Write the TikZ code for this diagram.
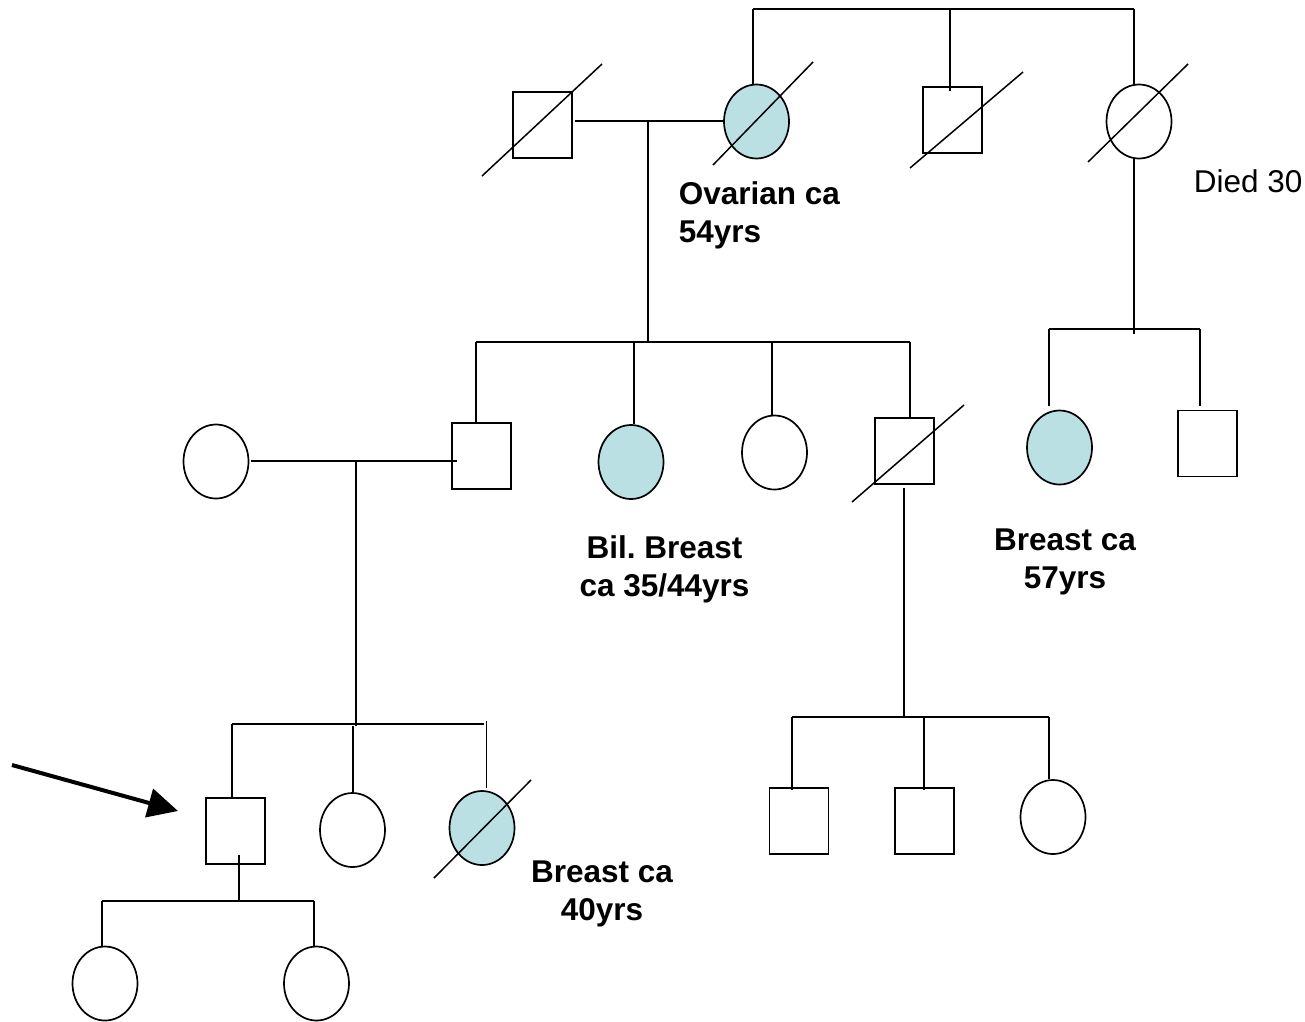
\documentclass[tikz,border=0pt]{standalone}
\usepackage{fontspec}
\setmainfont{Liberation Sans}
\usetikzlibrary{shapes.geometric,arrows.meta}
\definecolor{affected}{RGB}{187,224,228}
\frenchspacing
\begin{document}
\begin{tikzpicture}[x=1pt,y=-1pt,
  line width=1.7pt,
  male/.style={draw,rectangle,inner sep=0pt,minimum width=59pt,minimum height=66pt},
  female/.style={draw,ellipse,inner sep=0pt,minimum width=65pt,minimum height=74pt},
  affected/.style={fill=affected},
  deceased/.style={line width=1.5pt},
  label/.style={font=\fontsize{31.5}{38}\selectfont\bfseries,inner sep=0pt,align=center},
  note/.style={font=\fontsize{31.5}{38}\selectfont,inner sep=0pt}]
\useasboundingbox (0,0) rectangle (1305,1021);

% generation I
\node[male] (gf) at (542.5,125) {};
\node[female,affected] (gm) at (756.5,121.5) {};
\node[male] (gu) at (952.5,120) {};
\node[female] (ga) at (1139,121.5) {};

% generation II
\node[female] (mo) at (216,461.5) {};
\node[male] (fa) at (481.5,456) {};
\node[female,affected] (au1) at (631,462) {};
\node[female] (au2) at (774.5,452.5) {};
\node[male] (un) at (904.5,451) {};
\node[female,affected] (co1) at (1059.5,447.5) {};
\node[male] (co2) at (1207.5,443.5) {};

% generation III
\node[male] (pb) at (235.5,831) {};
\node[female] (si1) at (352.5,830) {};
\node[female,affected] (si2) at (482,828) {};
\node[male] (cs1) at (799,821) {};
\node[male] (cs2) at (924.5,821) {};
\node[female] (cs3) at (1053,817) {};

% generation IV
\node[female] (da1) at (105,983.5) {};
\node[female] (da2) at (316.5,983.5) {};

% sibship of the grandmother
\coordinate (t1) at (753,9);
\coordinate (t2) at (950,9);
\coordinate (t3) at (1134,9);
\draw (t1) -- (t3);
\draw (t1) -- (t1 |- gm.north);
\draw (t2) -- (t2 |- 0,91);
\draw (t3) -- (t3 |- ga.north);

% grandparents' marriage and their children
\coordinate (m1) at (648,121);
\coordinate (s2) at (648,342);
\draw (gf.east |- m1) ++(2,0) -- (gm.west |- m1);
\draw (m1) -- (s2);
\coordinate (c1) at (476,342);
\coordinate (c2) at (634,342);
\coordinate (c3) at (772,342);
\coordinate (c4) at (910,342);
\draw (c1) -- (c4);
\draw (c1) -- (c1 |- fa.north);
\draw (c2) -- (c2 |- au1.north);
\draw (c3) -- (c3 |- au2.north);
\draw (c4) -- (c4 |- un.north);

% great-aunt's children
\coordinate (g1) at (1134,329);
\draw (ga.south -| g1) -- (1134,334);
\coordinate (k1) at (1049,329);
\coordinate (k2) at (1200,329);
\draw (k1) -- (k2);
\draw (k1) -- (1049,406);
\draw (k2) -- (1200,406);

% parents' marriage and their children
\coordinate (m2) at (356,461);
\draw (mo.east |- m2) ++(2,0) -- (457,461);
\draw (m2) -- (356,726);
\coordinate (p1) at (232,724);
\coordinate (p2) at (353,724);
\coordinate (p3) at (484,724);
\draw (p1) -- (p3);
\draw (p1) -- (p1 |- pb.north);
\draw (p2) ++(0,2) -- (p2 |- si1.north);
\draw (486.5,721) -- (486.5,788);

% uncle's children
\coordinate (u1) at (904,717);
\draw (un.south -| u1) ++(0,3) -- (u1);
\coordinate (q1) at (792,717);
\coordinate (q2) at (924,717);
\coordinate (q3) at (1049,717);
\draw (q1) -- (q3);
\draw (q1) -- (792,790);
\draw (q2) -- (924,790);
\draw (q3) -- (q3 |- cs3.north);

% proband's children
\coordinate (r0) at (239,901);
\draw (239,855) -- (r0);
\coordinate (r1) at (102,901);
\coordinate (r2) at (314,901);
\draw (r1) -- (r2);
\draw (r1) -- (r1 |- da1.north);
\draw (r2) -- (r2 |- da2.north);

% deceased marks
\draw[deceased] (482,176) -- (602,64);
\draw[deceased] (713,165) -- (813,62);
\draw[deceased] (910,168) -- (1023,72);
\draw[deceased] (1088,162) -- (1188,64);
\draw[deceased] (852,502) -- (964,405);
\draw[deceased] (434,878) -- (531,780);

% proband arrow
\coordinate (a0) at (12,765);
\coordinate (a1) at (178,811);
\draw[line width=4pt,-{Triangle[length=30pt,width=29pt]}] (a0) -- (a1);

% annotations (anchored on the baseline of the last line)
\node[label,anchor=base west,align=left] (l1) at (678,242) {Ovarian ca\\54yrs};
\node[note,anchor=base west] (l2) at (1193,192) {Died 30};
\node[label,anchor=base] (l3) at (664.5,596) {Bil. Breast\\ca 35/44yrs};
\node[label,anchor=base] (l4) at (1065,588) {Breast ca\\57yrs};
\node[label,anchor=base] (l5) at (602,920) {Breast ca\\40yrs};
\end{tikzpicture}
\end{document}
